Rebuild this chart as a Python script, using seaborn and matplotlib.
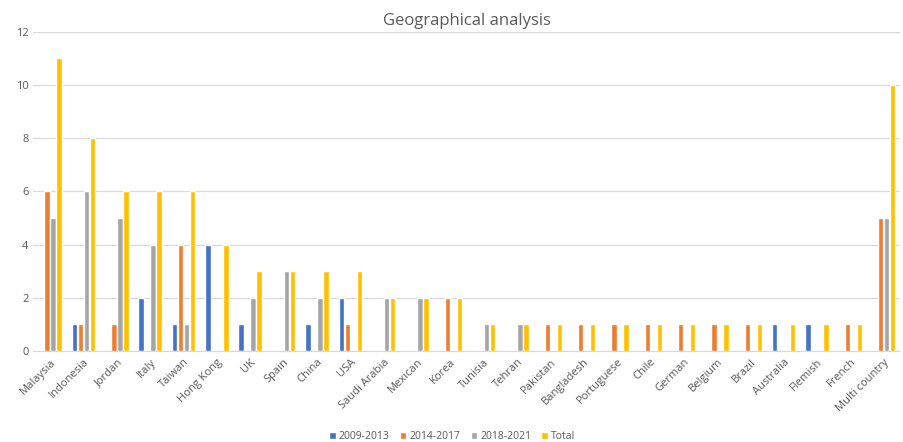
import pandas as pd
import matplotlib
matplotlib.use("Agg")
import matplotlib.pyplot as plt
import seaborn as sns

# --------------------------------------------
# Data
# --------------------------------------------
countries = ["Malaysia", "Indonesia", "Jordan", "Italy", "Taiwan", "Hong Kong", "UK",
             "Spain", "China", "USA", "Saudi Arabia", "Mexican", "Korea", "Tunisia",
             "Tehran", "Pakistan", "Bangladesh", "Portuguese", "Chile", "German",
             "Belgium", "Brazil", "Australia", "Flemish", "French", "Multi country"]
p2009_2013 = [0, 1, 0, 2, 1, 4, 1, 0, 1, 2, 0, 0, 0, 0, 0, 0, 0, 0, 0, 0, 0, 0, 1, 1, 0, 0]
p2014_2017 = [6, 1, 1, 0, 4, 0, 0, 0, 0, 1, 0, 0, 2, 0, 0, 1, 1, 1, 1, 1, 1, 1, 0, 0, 1, 5]
p2018_2021 = [5, 6, 5, 4, 1, 0, 2, 3, 2, 0, 2, 2, 0, 1, 1, 0, 0, 0, 0, 0, 0, 0, 0, 0, 0, 5]
total = [11, 8, 6, 6, 6, 4, 3, 3, 3, 3, 2, 2, 2, 1, 1, 1, 1, 1, 1, 1, 1, 1, 1, 1, 1, 10]
series = ["2009-2013", "2014-2017", "2018-2021", "Total"]
colors = ["#4472C4", "#ED7D31", "#A5A5A5", "#FFC000"]

df = pd.DataFrame({"Country": countries, series[0]: p2009_2013, series[1]: p2014_2017,
                   series[2]: p2018_2021, series[3]: total})
long_df = df.melt(id_vars="Country", var_name="Period", value_name="Count")

# --------------------------------------------
# Plot
# --------------------------------------------
sns.set_style("white")
plt.rcParams["font.family"] = ["Open Sans", "DejaVu Sans"]
text_col = "#595959"

fig = plt.figure(figsize=(9.04, 4.42), dpi=100)
ax = fig.add_axes([0.037, 0.206, 0.959, 0.722])

sns.barplot(data=long_df, x="Country", y="Count", hue="Period", hue_order=series,
            palette=colors, width=0.72, gap=0.1, ax=ax, legend=True, saturation=1)

ax.set_ylim(0, 12)
ax.set_yticks(range(0, 13, 2))
ax.set_xlim(-0.5, len(countries) - 0.5)
ax.grid(axis="y", color="#D9D9D9", linewidth=0.9)
ax.set_axisbelow(True)
for s in ["top", "right", "left"]:
    ax.spines[s].set_visible(False)
ax.spines["bottom"].set_color("#D9D9D9")

ax.set_xlabel("")
ax.set_ylabel("")
ax.tick_params(axis="both", length=0, colors=text_col, labelsize=8)
ax.tick_params(axis="x", pad=4)
ax.set_xticks(range(len(countries)))
ax.set_xticklabels(countries, rotation=45, ha="right", rotation_mode="anchor")

ax.set_title("Geographical analysis", fontsize=12, color=text_col, pad=5)

ax.legend(loc="lower center", bbox_to_anchor=(0.483, -0.305), ncol=4, frameon=False,
          fontsize=7.5, handlelength=0.6, handleheight=0.6, handletextpad=0.3,
          columnspacing=1.0, labelcolor=text_col, borderpad=0.1)

fig.savefig("out.png", dpi=100)
